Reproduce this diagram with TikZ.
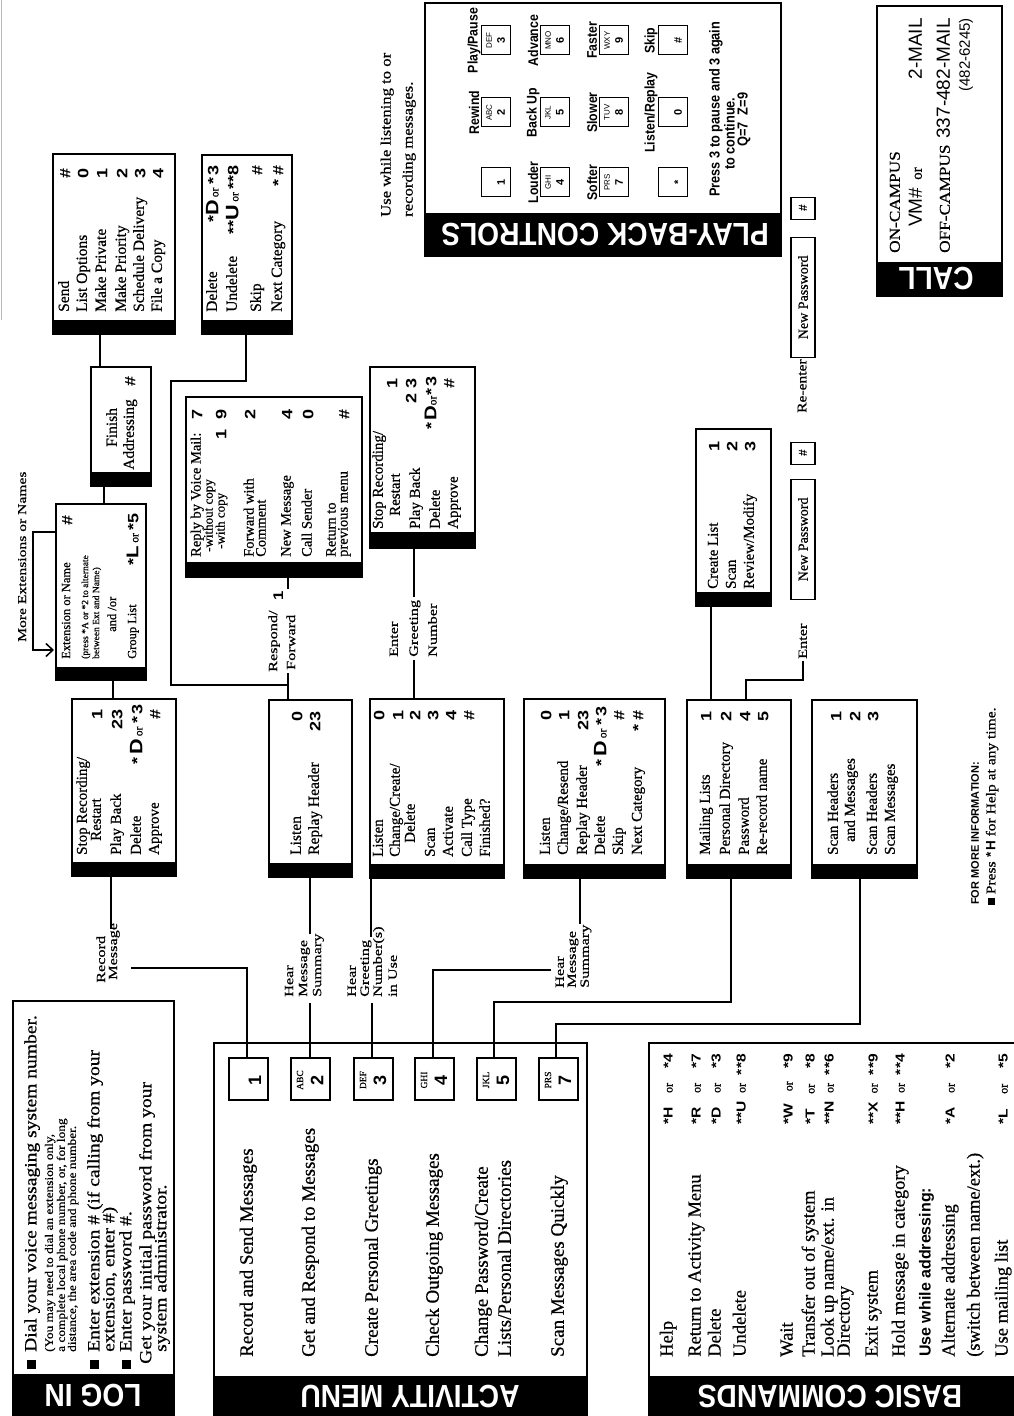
\documentclass[tikz,border=0pt]{standalone}
\usepackage{fontspec}
\setmainfont{Liberation Serif}[FakeBold=0.6]
\setsansfont{Liberation Sans}
\newfontfamily\midserif{Liberation Serif}[FakeStretch=1.15,FakeBold=0.6]
\newfontfamily\wideserif{Liberation Serif}[FakeStretch=1.3,FakeBold=0.6]
\newfontfamily\hvc{Liberation Sans}[FakeStretch=0.88]
\newfontfamily\wsb{Liberation Sans}[FakeStretch=1.2]
\usetikzlibrary{arrows.meta}
\newcommand\setfs[1]{\fontsize{#1}{#1}\selectfont}
\newcommand\sq{\rule[0.02em]{0.5em}{0.5em}}
\newcommand\orr{{\rmfamily\mdseries\setfs{11.5}\ or\ }}
\newcounter{nn}
\def\curfs{15}
\def\curnfs{15}
\newcommand\ltx[4][]{\stepcounter{nn}%
  \node[anchor=base west,inner sep=0pt,font=\rmfamily\setfs{\curfs},#1] (t\arabic{nn}) at ({#2},{#3+0.25*\curfs}) {#4};}
\newcommand\rtx[4][]{\stepcounter{nn}%
  \node[anchor=base east,inner sep=0pt,font=\wsb\bfseries\setfs{\curnfs},#1] (t\arabic{nn}) at ({#2},{#3+0.36*\curnfs}) {#4};}
\newcommand\panel[6]{%
  \node[draw,line width=1.8pt,inner sep=0pt,anchor=north west,
    minimum width={(#4-#2)*1pt},minimum height={(#5-#3)*1pt}] (#1) at (#2,#3) {};
  \fill ({#2},{#3}) rectangle ({#2+#6},{#5});}
\newcommand\akey[5]{%
  \node[draw,line width=1.6pt,inner sep=0pt,anchor=north west,minimum width=42pt,minimum height=39pt] (#1) at (#2,#3) {};
  \node[inner sep=0pt,font=\rmfamily\setfs{9.5}] (#1l) at ({#2+21},{#3+10}) {#4};
  \node[inner sep=0pt,font=\sffamily\bfseries\setfs{18}] (#1n) at ({#2+21},{#3+27}) {#5};}
\newcommand\pkey[6]{%
  \node[draw,line width=1.3pt,inner sep=0pt,anchor=north west,minimum width=29pt,minimum height=29pt] (#1) at (#2,#3) {};
  \node[inner sep=0pt,font=\sffamily\setfs{8}] (#1l) at ({#2+14.5},{#3+8}) {#4};
  \node[inner sep=0pt,font=\sffamily\bfseries\setfs{11}] (#1n) at ({#2+14.5},{#3+20}) {#5};
  \node[inner sep=0pt,font=\hvc\bfseries\setfs{14}] (#1t) at ({#2+14.5},{#3-7}) {#6};}
\newcommand\bcode[3]{\stepcounter{nn}%
  \node[anchor=base east,inner sep=0pt,font=\wsb\bfseries\setfs{13}] (t\arabic{nn}) at (362,{#1+4.5})
    {\makebox[70pt][s]{#2\hfill{\rmfamily\mdseries\setfs{12}or}\hfill #3}};}
\tikzset{conn/.style={line width=1.8pt},
  headtxt/.style={rotate=90,text=white,inner sep=0pt,font=\hvc\bfseries\setfs{32}},
  pwbox/.style={draw,line width=1.3pt,inner sep=0pt,anchor=west,minimum height=24pt,font=\rmfamily\setfs{14}}}
\begin{document}
\begin{tikzpicture}[x=1pt,y=1pt]
\useasboundingbox (0,0) rectangle (1013,-1416);
\fill[white] (0,0) rectangle (1013,-1416);
\begin{scope}[shift={(0pt,-1416pt)},rotate=90,transform shape,x=1pt,y=-1pt]
% page edge
\draw[gray!55,line width=0.8pt] (1096,1.5) -- (1416,1.5);
% ---------------- panels
\panel{login}{-10}{12}{414}{173}{52}
\panel{act}{-10}{213}{372}{586}{50}
\panel{basic}{-10}{648}{372}{1022}{50}
\panel{send}{1081}{52}{1261}{174}{15}
\panel{delb}{1081}{201}{1260}{291}{15}
\panel{finish}{929}{90}{1048}{150}{15}
\panel{ext}{735}{55}{911}{145}{14}
\panel{stopa}{539}{71}{716}{175}{15}
\panel{lrep}{538}{268}{715}{351}{15}
\panel{reply}{838}{185}{1018}{361}{16}
\panel{stopb}{867}{369}{1048}{474}{17}
\panel{lcre}{537}{369}{716}{503}{15}
\panel{lres}{537}{523}{716}{664}{15}
\panel{mail}{537}{686}{715}{790}{15}
\panel{scan}{537}{811}{715}{916}{15}
\panel{clist}{809}{695}{986}{770}{15}
\panel{play}{1159}{424}{1412}{780}{44}
\panel{call}{1119}{876}{1409}{1001}{35}
% ---------------- headings
\node[headtxt] (hlogin) at (21,93) {LOG IN};
\node[headtxt] (hact) at (20,410) {ACTIVITY MENU};
\node[headtxt] (hbasic) at (20,830) {BASIC COMMANDS};
\node[headtxt] (hplay) at (1181,605) {PLAY-BACK CONTROLS};
\node[headtxt] (hcall) at (1137,936) {CALL};
% ---------------- LOG IN
\def\curfs{17}
\ltx[font=\midserif\setfs{17}]{47}{32}{\makebox[17pt][l]{\sq}Dial your voice messaging system number.}
\def\curfs{11.6}
\ltx[font=\midserif\setfs{11.6}]{64}{50}{(You may need to dial an extension only,}
\ltx[font=\midserif\setfs{11.6}]{64}{62}{a complete local phone number, or, for long}
\ltx[font=\midserif\setfs{11.6}]{64}{73}{distance, the area code and phone number.}
\def\curfs{17}
\ltx[font=\midserif\setfs{17}]{47}{95}{\makebox[17pt][l]{\sq}Enter extension \# (if calling from your}
\ltx[font=\midserif\setfs{17}]{64}{110}{extension, enter \#)}
\ltx[font=\midserif\setfs{17}]{47}{127}{\makebox[17pt][l]{\sq}Enter password \#.}
\ltx[font=\midserif\setfs{17}]{52}{147}{Get your initial password from your}
\ltx[font=\midserif\setfs{17}]{64}{162}{system administrator.}
% ---------------- ACTIVITY MENU
\def\curfs{19}
\ltx{59}{248}{Record and Send Messages}
\ltx{59}{310}{Get and Respond to Messages}
\ltx{59}{373}{Create Personal Greetings}
\ltx{59}{434}{Check Outgoing Messages}
\ltx{59}{483}{Change Password/Create}
\ltx{59}{506}{Lists/Personal Directories}
\ltx{59}{559}{Scan Messages Quickly}
\akey{k1}{315}{228}{}{1}
\akey{k2}{315}{290}{ABC}{2}
\akey{k3}{315}{353}{DEF}{3}
\akey{k4}{315}{414}{GHI}{4}
\akey{k5}{315}{476}{JKL}{5}
\akey{k7}{315}{538}{PRS}{7}
% ---------------- BASIC COMMANDS
\def\curfs{18.5}
\ltx{59}{668}{Help}
\ltx{59}{696}{Return to Activity Menu}
\ltx{59}{716}{Delete}
\ltx{59}{741}{Undelete}
\ltx{59}{788}{Wait}
\ltx{59}{810}{Transfer out of system}
\ltx{59}{829}{Look up name/ext. in}
\ltx{59}{845}{Directory}
\ltx{59}{873}{Exit system}
\ltx{59}{900}{Hold message in category}
\ltx[font=\sffamily\bfseries\setfs{16}]{59}{926}{Use while addressing:}
\ltx{59}{950}{Alternate addressing}
\ltx{59}{975}{(switch between name/ext.)}
\ltx{59}{1003}{Use mailing list}
\bcode{668}{*H}{*4}
\bcode{696}{*R}{*7}
\bcode{716}{*D}{*3}
\bcode{741}{**U}{**8}
\bcode{788}{*W}{*9}
\bcode{810}{*T}{*8}
\bcode{829}{**N}{**6}
\bcode{873}{**X}{**9}
\bcode{900}{**H}{**4}
\bcode{950}{*A}{*2}
\bcode{1003}{*L}{*5}
% ---------------- Record branch
\def\curfs{15}
\ltx{561}{83}{Stop Recording/}
\ltx{575}{97}{Restart}
\ltx{561}{117}{Play Back}
\ltx{561}{137}{Delete}
\ltx{561}{155}{Approve}
\rtx{707}{97}{1}
\rtx{707}{117}{23}
\rtx{712}{137}{*\,{\setfs{18}D}\orr*\,3}
\rtx{707}{155}{\#}
\def\curfs{12.5}
\ltx{757}{67}{Extension or Name}
\rtx{901}{67}{\#}
\ltx[font=\rmfamily\setfs{9.5}]{757}{85}{(press *A or *2 to alternate}
\ltx[font=\rmfamily\setfs{9.5}]{757}{96}{between Ext and Name)}
\ltx{784}{113}{and /or}
\ltx{757}{133}{Group List}
\rtx{903}{133}{*{\setfs{17}L}\orr*5}
\def\curfs{15.5}
\ltx{969}{113}{Finish}
\ltx{946}{130}{Addressing}
\rtx{1040}{130}{\#}
\ltx{1104}{65}{Send}
\ltx{1104}{83}{List Options}
\ltx{1104}{102}{Make Private}
\ltx{1104}{122}{Make Priority}
\ltx{1104}{140}{Schedule Delivery}
\ltx{1104}{158}{File a Copy}
\rtx{1248}{65}{\#}
\rtx{1248}{83}{0}
\rtx{1248}{102}{1}
\rtx{1248}{122}{2}
\rtx{1248}{140}{3}
\rtx{1248}{158}{4}
\ltx{1104}{213}{Delete}
\ltx{1104}{233}{Undelete}
\ltx{1104}{257}{Skip}
\ltx{1104}{278}{Next Category}
\rtx{1251}{213}{*{\setfs{18}D}\orr*\,3}
\rtx{1251}{233}{**{\setfs{18}U}\orr**8}
\rtx{1251}{257}{\#}
\rtx{1251}{278}{*\;\#}
\def\curfs{12}
\ltx[font=\wideserif\setfs{12}]{774}{23}{More Extensions or Names}
\ltx[font=\wideserif\setfs{12.5}]{433}{102}{Record}
\ltx[font=\wideserif\setfs{12.5}]{436}{114}{Message}
% ---------------- Get and respond branch
\def\curfs{15.5}
\ltx{561}{297}{Listen}
\ltx{561}{315}{Replay Header}
\rtx{705}{297}{0}
\rtx{705}{315}{23}
\def\curfs{12.5}
\ltx[font=\wideserif\setfs{12.5}]{419}{290}{Hear}
\ltx[font=\wideserif\setfs{12.5}]{419}{304}{Message}
\ltx[font=\wideserif\setfs{12.5}]{419}{318}{Summary}
\ltx[font=\wideserif\setfs{12.5}]{744}{274}{Respond/}
\ltx[font=\wideserif\setfs{12.5}]{746}{292}{Forward}
\ltx[font=\wsb\bfseries\setfs{14}]{815}{280}{1}
\def\curfs{14.5}
\ltx{859}{197}{Reply by Voice Mail:}
\ltx[font=\rmfamily\setfs{13}]{864}{209}{-without copy}
\ltx[font=\rmfamily\setfs{13}]{867}{221}{-with copy}
\ltx{859}{250}{Forward with}
\ltx{859}{262}{Comment}
\ltx{859}{287}{New Message}
\ltx{859}{308}{Call Sender}
\ltx{859}{332}{Return to}
\ltx{859}{344}{previous menu}
\rtx{1007}{197}{7}
\rtx{1007}{221}{1\ \ 9}
\rtx{1007}{250}{2}
\rtx{1007}{287}{4}
\rtx{1007}{308}{0}
\rtx{1007}{344}{\#}
% ---------------- Greetings branch
\def\curfs{15}
\ltx{559}{379}{Listen}
\ltx{559}{396}{Change/Create/}
\ltx{573}{411}{Delete}
\ltx{559}{431}{Scan}
\ltx{559}{449}{Activate}
\ltx{559}{468}{Call Type}
\ltx{559}{486}{Finished?}
\rtx{706}{379}{0}
\rtx{706}{398}{1}
\rtx{706}{415}{2}
\rtx{706}{433}{3}
\rtx{706}{451}{4}
\rtx{706}{469}{\#}
\ltx[font=\wideserif\setfs{12.5}]{419}{352}{Hear}
\ltx[font=\wideserif\setfs{12.5}]{419}{365}{Greeting}
\ltx[font=\wideserif\setfs{12.5}]{419}{378}{Number(s)}
\ltx[font=\wideserif\setfs{12.5}]{419}{393}{in Use}
\ltx[font=\wideserif\setfs{12.5}]{759}{394}{Enter}
\ltx[font=\wideserif\setfs{12.5}]{759}{414}{Greeting}
\ltx[font=\wideserif\setfs{12.5}]{759}{433}{Number}
\def\curfs{15}
\ltx{887}{379}{Stop Recording/}
\ltx{900}{396}{Restart}
\ltx{887}{416}{Play Back}
\ltx{887}{436}{Delete}
\ltx{887}{454}{Approve}
\rtx{1038}{392}{1}
\rtx{1038}{411}{2 3}
\rtx{1040}{431}{*\,{\setfs{17}D}{\rmfamily\mdseries\setfs{11.5}or}*\,3}
\rtx{1038}{449}{\#}
% ---------------- Outgoing branch
\ltx{561}{546}{Listen}
\ltx{561}{564}{Change/Resend}
\ltx{561}{583}{Replay Header}
\ltx{561}{601}{Delete}
\ltx{561}{619}{Skip}
\ltx{561}{638}{Next Category}
\rtx{706}{546}{0}
\rtx{706}{564}{1}
\rtx{706}{583}{23}
\rtx{710}{601}{*\,{\setfs{18}D}\orr*\,3}
\rtx{706}{619}{\#}
\rtx{706}{638}{*\;\#}
\ltx[font=\wideserif\setfs{12.5}]{428}{560}{Hear}
\ltx[font=\wideserif\setfs{12.5}]{428}{572}{Message}
\ltx[font=\wideserif\setfs{12.5}]{428}{585}{Summary}
% ---------------- Password / lists branch
\ltx{561}{706}{Mailing Lists}
\ltx{561}{726}{Personal Directory}
\ltx{561}{745}{Password}
\ltx{561}{763}{Re-record name}
\rtx{705}{706}{1}
\rtx{705}{726}{2}
\rtx{705}{745}{4}
\rtx{705}{763}{5}
\ltx{827}{714}{Create List}
\ltx{827}{732}{Scan}
\ltx{827}{750}{Review/Modify}
\rtx{975}{714}{1}
\rtx{975}{732}{2}
\rtx{975}{750}{3}
\ltx[font=\wideserif\setfs{12.5}]{757}{803}{Enter}
\node[pwbox,minimum width=120pt] (np1) at (816,803) {New Password};
\node[pwbox,minimum width=22pt,font=\sffamily\bfseries\setfs{12}] (hs1) at (951,803) {\#};
\def\curfs{13.5}
\ltx[font=\midserif\setfs{13.5}]{1003}{803}{Re-enter}
\node[pwbox,minimum width=120pt] (np2) at (1058,803) {New Password};
\node[pwbox,minimum width=22pt,font=\sffamily\bfseries\setfs{12}] (hs2) at (1196,803) {\#};
% ---------------- Scan branch
\def\curfs{15}
\ltx{561}{834}{Scan Headers}
\ltx{574}{851}{and Messages}
\ltx{561}{873}{Scan Headers}
\ltx{561}{891}{Scan Messages}
\rtx{705}{836}{1}
\rtx{705}{855}{2}
\rtx{705}{873}{3}
% ---------------- info
\def\curfs{11}
\ltx[font=\sffamily\bfseries\setfs{11}]{511}{976}{FOR MORE INFORMATION:}
\def\curfs{13.5}
\ltx[font=\midserif\setfs{13.5}]{511}{992}{\sq\ Press {\sffamily\bfseries *\,H} for Help at any time.}
% ---------------- play-back controls
\def\curfs{14.5}
\ltx[font=\midserif\setfs{14.5}]{1199}{387}{Use while listening to or}
\ltx[font=\midserif\setfs{14.5}]{1199}{409}{recording messages.}
\pkey{p1}{1219}{481}{}{1}{}
\pkey{p2}{1289}{481}{ABC}{2}{Rewind}
\pkey{p3}{1361}{481}{DEF}{3}{Play/Pause}
\pkey{p4}{1219}{540}{GHI}{4}{Louder}
\pkey{p5}{1289}{540}{JKL}{5}{Back Up}
\pkey{p6}{1361}{540}{MNO}{6}{Advance}
\pkey{p7}{1219}{599}{PRS}{7}{Softer}
\pkey{p8}{1289}{599}{TUV}{8}{Slower}
\pkey{p9}{1361}{599}{WXY}{9}{Faster}
\pkey{ps}{1219}{658}{}{*}{}
\pkey{p0}{1289}{658}{}{0}{Listen/Replay}
\pkey{ph}{1361}{658}{}{\#}{Skip}
\ltx[font=\hvc\bfseries\setfs{14.5}]{1219}{716}{Press 3 to pause and 3 again}
\ltx[font=\hvc\bfseries\setfs{14.5}]{1246}{731}{to continue.}
\ltx[font=\hvc\bfseries\setfs{14.5}]{1269}{744}{Q=7\ \ Z=9}
% ---------------- call
\def\curfs{15}
\ltx[font=\midserif\setfs{15}]{1163}{896}{ON-CAMPUS}
\ltx[font=\sffamily\setfs{19}]{1189}{918}{VM\#}
\ltx[font=\rmfamily\setfs{15}]{1236}{918}{or}
\ltx[font=\sffamily\setfs{19},anchor=base east]{1398}{918}{2-MAIL}
\ltx[font=\midserif\setfs{15}]{1163}{946}{OFF-CAMPUS}
\ltx[font=\sffamily\setfs{19},anchor=base east]{1398}{946}{337-482-MAIL}
\ltx[font=\sffamily\setfs{15},anchor=base east]{1398}{966}{(482-6245)}
% ---------------- connectors
\draw[conn] (1048,100) -- (1081,100);
\draw[conn] (1081,246) -- (1035,246) -- (1035,171) -- (731,171) -- (731,288);
\draw[conn] (929,104) -- (911,104);
\draw[conn] (735,113) -- (716,113);
\draw[conn,-{Straight Barb[length=7pt,width=13pt,line width=1.5pt]}] (884,55) -- (884,33) -- (766,33) -- (766,54);
\draw[conn] (539,111) -- (487,111);
\draw[conn] (448,131) -- (448,247) -- (357,247);
\draw[conn] (538,310) -- (482,310);
\draw[conn] (413,310) -- (357,310);
\draw[conn] (537,371) -- (479,371);
\draw[conn] (413,372) -- (357,372);
\draw[conn] (537,580) -- (492,580);
\draw[conn] (446,551) -- (446,433) -- (357,433);
\draw[conn] (537,731) -- (414,731) -- (414,494) -- (357,494);
\draw[conn] (537,860) -- (392,860) -- (392,556) -- (357,556);
\draw[conn] (838,288) -- (827,288);
\draw[conn] (743,288) -- (715,288);
\draw[conn] (867,414) -- (819,414);
\draw[conn] (756,414) -- (716,414);
\draw[conn] (715,746) -- (736,746) -- (736,803) -- (755,803);
\draw[conn] (809,711) -- (715,711);
\end{scope}
\end{tikzpicture}
\end{document}
